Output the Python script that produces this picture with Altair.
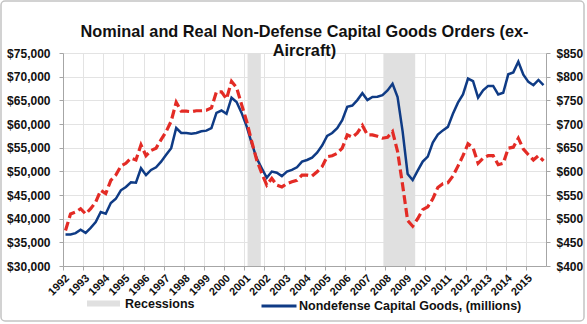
import altair as alt
import pandas as pd

# ---- data (quarterly) ----
years = list(range(1992, 2016))
quarters = [1, 2, 3, 4]

nominal = [
    36650, 36650, 36950, 37650,   # 1992
    37000, 38050, 39300, 41400,   # 1993
    41050, 43300, 44200, 46000,   # 1994
    46700, 47700, 47600, 50650,   # 1995
    49200, 50300, 50850, 52050,   # 1996
    53500, 54900, 59150, 58100,   # 1997
    58100, 57950, 58100, 58450,   # 1998
    58600, 59150, 62350, 62850,   # 1999
    62150, 65550, 64650, 62350,   # 2000
    59500, 55950, 52750, 50650,   # 2001
    48650, 49950, 49700, 49000,   # 2002
    49950, 50300, 50850, 52050,   # 2003
    52400, 52900, 53950, 55450,   # 2004
    57500, 58100, 59100, 60800,   # 2005
    63650, 63900, 65050, 66500,   # 2006
    65050, 65700, 65750, 66100,   # 2007
    67100, 68500, 65700, 58450,   # 2008
    49450, 48150, 50150, 52050,   # 2009
    53100, 56100, 57750, 58650,   # 2010
    59400, 62150, 64500, 66250,   # 2011
    69600, 69050, 65550, 67100,   # 2012
    68050, 68050, 66250, 66600,   # 2013
    70500, 70900, 73150, 70400,   # 2014
    68900, 68200, 69300, 68200,   # 2015
]

real = [
    475, 510, 514, 521,   # 1992
    510, 521, 535, 560,   # 1993
    553, 581, 592, 611,   # 1994
    617, 628, 624, 656,   # 1995
    633, 644, 649, 667,   # 1996
    684, 706, 746, 727,   # 1997
    727, 726, 728, 728,   # 1998
    729, 734, 768, 768,   # 1999
    753, 790, 777, 741,   # 2000
    706, 663, 624, 596,   # 2001
    571, 585, 571, 567,   # 2002
    574, 578, 581, 592,   # 2003
    592, 590, 599, 610,   # 2004
    631, 633, 638, 649,   # 2005
    677, 672, 681, 697,   # 2006
    677, 677, 674, 670,   # 2007
    672, 684, 642, 571,   # 2008
    496, 484, 500, 519,   # 2009
    525, 542, 566, 574,   # 2010
    576, 590, 611, 633,   # 2011
    658, 650, 617, 628,   # 2012
    633, 633, 614, 617,   # 2013
    649, 651, 670, 647,   # 2014
    635, 624, 633, 622,   # 2015
]

rec_start = [2001.17, 2007.92]
rec_end = [2001.83, 2009.5]
rec_label = ["Recessions", "Recessions"]

series_label = "Nondefense Capital Goods, (millions)"
x_ticks = list(range(1992, 2016))
left_ticks = list(range(30000, 75001, 5000))
right_ticks = list(range(400, 851, 50))
title_lines = ["Nominal and Real Non-Defense Capital Goods Orders (ex-", "Aircraft)"]

# ---- tables ----
t = [y + (q - 0.5) / 4 for y in years for q in quarters]
df = pd.DataFrame({"t": t, "nominal": nominal, "real": real, "series": series_label})
rec = pd.DataFrame({"start": rec_start, "end": rec_end, "label": rec_label})
frame = pd.DataFrame({"k": [0]})

FONT = "Liberation Sans"
W, H = 483, 213

xscale = alt.Scale(domain=[1992, 2016], nice=False, zero=False)
xaxis = alt.Axis(values=x_ticks, format="d", labelAngle=-45, labelAlign="right",
                 labelBaseline="top", labelPadding=2, tickSize=4, grid=True, title=None,
                 labelFontSize=11, labelOverlap=False)

recs = alt.Chart(rec).mark_rect().encode(
    x=alt.X("start:Q", scale=xscale, axis=xaxis),
    x2="end:Q",
    y=alt.value(0),
    y2=alt.value(H),
    fill=alt.Fill("label:N", scale=alt.Scale(range=["#e0e0e0"]),
                  legend=alt.Legend(title=None, orient="none", legendX=24, legendY=234,
                                    symbolType="M-1,-0.18L1,-0.18L1,0.18L-1,0.18Z",
                                    symbolSize=1089, symbolStrokeWidth=0,
                                    labelFont=FONT, labelFontWeight="bold", labelFontSize=12.5,
                                    labelColor="#111", labelOffset=5, padding=0)),
)

blue = alt.Chart(df).mark_line(strokeWidth=2.5).encode(
    x=alt.X("t:Q", scale=xscale, axis=xaxis),
    y=alt.Y("nominal:Q", scale=alt.Scale(domain=[30000, 75000], nice=False, zero=False),
            axis=alt.Axis(values=left_ticks, format="$,.0f", orient="left", title=None,
                          grid=True, tickSize=4, labelPadding=9)),
    stroke=alt.Stroke("series:N", scale=alt.Scale(range=["#0f3b85"]),
                      legend=alt.Legend(title=None, orient="none", legendX=197, legendY=234,
                                        symbolType="stroke", symbolSize=1225,
                                        symbolStrokeWidth=3, labelLimit=400,
                                        labelFont=FONT, labelFontWeight="bold", labelFontSize=12.5,
                                        labelColor="#111", labelOffset=1, padding=0)),
)

red = alt.Chart(df).mark_line(strokeWidth=3.2, strokeDash=[9, 4], color="#e32b25").encode(
    x=alt.X("t:Q", scale=xscale, axis=xaxis),
    y=alt.Y("real:Q", scale=alt.Scale(domain=[400, 850], nice=False, zero=False),
            axis=alt.Axis(values=right_ticks, format="$.0f", orient="right", title=None,
                          grid=False, tickSize=4, labelPadding=6)),
)

border = alt.Chart(frame).mark_rect(fill="transparent", stroke="#c4c4c4", strokeWidth=1.5,
                                    cornerRadius=4, clip=False).encode(
    x=alt.value(-62), x2=alt.value(521), y=alt.value(-52), y2=alt.value(268)
)

chart = alt.layer(recs, blue, red, border).resolve_scale(y="independent").properties(
    width=W, height=H,
    autosize=alt.AutoSizeParams(type="none"),
    padding={"left": 63, "top": 53, "right": 41, "bottom": 58},
    title=alt.Title(title_lines, anchor="middle", frame="group", offset=-8, dy=51,
                    fontSize=16.3, lineHeight=19, font=FONT, fontWeight="bold", color="#111"),
).configure_axis(
    labelFont=FONT, labelFontWeight="bold", labelFontSize=12, labelColor="#111",
    domainColor="#a6a6a6", tickColor="#a6a6a6", gridColor="#e3e3e3",
).configure_axisX(
    labelOverlap=False, labelFontSize=11,
).configure_view(stroke=None)

chart.save("out.html", embed_options={"renderer": "svg", "actions": False})
